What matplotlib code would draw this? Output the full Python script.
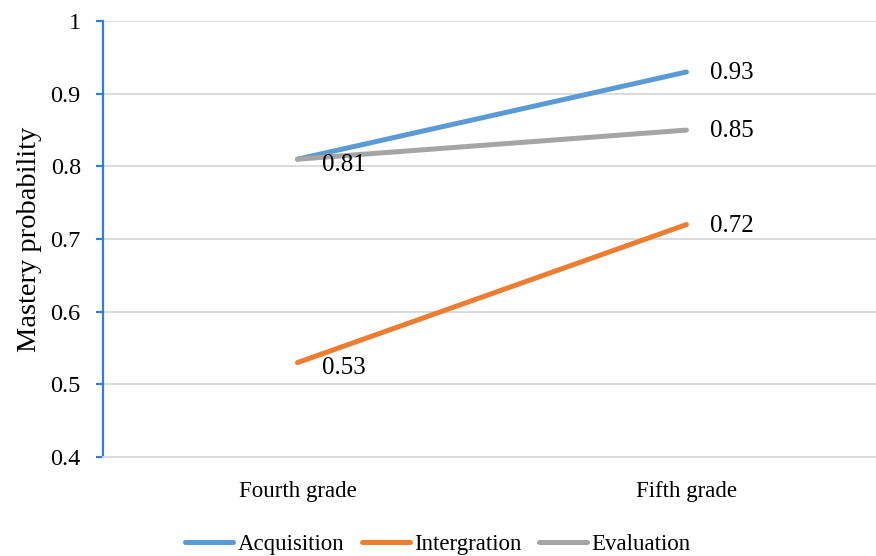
import numpy as np
import matplotlib.pyplot as plt

grades = ['Fourth grade', 'Fifth grade']
acquisition = [0.81, 0.93]
integration = [0.53, 0.72]
evaluation = [0.81, 0.85]

plt.rcParams['font.family'] = ['Liberation Serif', 'DejaVu Serif']

fig = plt.figure(figsize=(8.76, 5.56), dpi=100)
ax = fig.add_axes([0.1176, 0.178, 0.888, 0.784])

x = np.arange(len(grades))
ax.plot(x, acquisition, color='#5B9BD5', lw=3.6, solid_capstyle='round', label='Acquisition', zorder=3)
ax.plot(x, integration, color='#ED7D31', lw=3.6, solid_capstyle='round', label='Intergration', zorder=3)
ax.plot(x, evaluation, color='#A5A5A5', lw=3.6, solid_capstyle='round', label='Evaluation', zorder=4)

# data labels
lab = dict(textcoords='offset points', va='center', ha='left', fontsize=18)
ax.annotate(f'{acquisition[1]:.2f}', (x[1], acquisition[1]), xytext=(17, -1), **lab)
ax.annotate(f'{evaluation[1]:.2f}', (x[1], evaluation[1]), xytext=(17, -1), **lab)
ax.annotate(f'{integration[1]:.2f}', (x[1], integration[1]), xytext=(17, -1), **lab)
ax.annotate(f'{evaluation[0]:.2f}', (x[0], evaluation[0]), xytext=(18, -4), zorder=5, **lab)
ax.annotate(f'{integration[0]:.2f}', (x[0], integration[0]), xytext=(18, -4), **lab)

ax.set_xlim(-0.5, 1.5)
ax.set_ylim(0.4, 1.0)
ax.set_yticks(np.arange(0.4, 1.01, 0.1))
ax.set_yticklabels(['0.4', '0.5', '0.6', '0.7', '0.8', '0.9', '1'])
ax.set_xticks(x)
ax.set_xticklabels(grades)
ax.yaxis.grid(True, color='#D9D9D9', lw=1.3)
ax.set_axisbelow(True)

for s in ['top', 'right']:
    ax.spines[s].set_visible(False)
ax.spines['bottom'].set_color('#D9D9D9')
ax.spines['bottom'].set_linewidth(1.3)
ax.spines['left'].set_color('#2E7FD6')
ax.spines['left'].set_linewidth(1.6)
ax.tick_params(axis='y', colors='#2E7FD6', length=5, width=1.6, labelcolor='black', labelsize=17.5, pad=11)
ax.tick_params(axis='x', length=0, labelsize=16.5, pad=17)
ax.set_ylabel('Mastery probability', fontsize=20.5, labelpad=6)

fig.legend(loc='lower center', ncol=3, frameon=False, fontsize=16.5,
           handlelength=2.1, handletextpad=0.2, columnspacing=0.75,
           bbox_to_anchor=(0.5, -0.035))

fig.savefig('out.png', dpi=100)
